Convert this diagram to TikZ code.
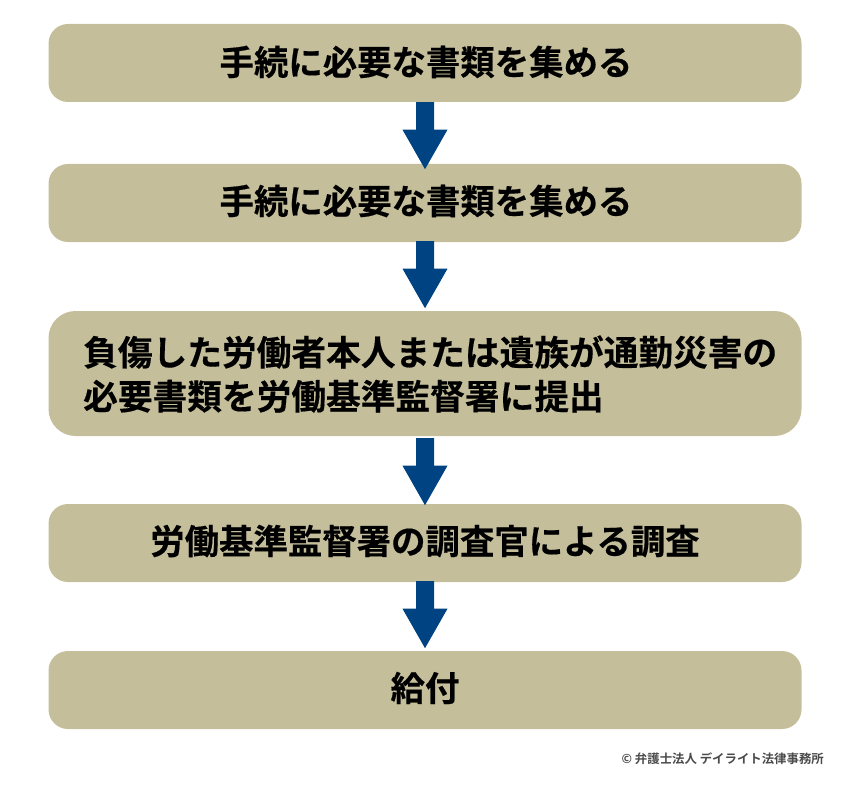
\documentclass[tikz,border=0pt]{standalone}
\usepackage{fontspec}
\newfontfamily\cjkb{Noto Sans CJK JP Bold}[FakeBold=0.4]
\newfontfamily\cjkm{Noto Sans CJK JP Bold}
\definecolor{boxc}{HTML}{C4BE9B}
\definecolor{arrowc}{HTML}{004382}
\definecolor{creditc}{HTML}{4A4A4A}
\tikzset{
 stepbox/.style={fill=boxc,rounded corners=19.5pt,minimum width=753pt,inner sep=0pt,text=black},
 lab/.style={text=black,inner sep=0pt,font=\cjkb\fontsize{34.4pt}{44pt}\selectfont},
 flow/.style={fill=arrowc,draw=none}
}
\begin{document}
\begin{tikzpicture}[x=1pt,y=-1pt]
\useasboundingbox (0,0) rectangle (850,786);
\node[stepbox,minimum height=78pt] (a) at (425,63) {};
\node[stepbox,minimum height=78pt] (b) at (425,203) {};
\node[stepbox,minimum height=125pt,rounded corners=27pt] (c) at (425,373.5) {};
\node[stepbox,minimum height=78pt] (d) at (425,543) {};
\node[stepbox,minimum height=78pt] (e) at (425,690) {};
\node[lab] (ta) at (426,62) {手続に必要な書類を集める};
\node[lab] (tb) at (426,201) {手続に必要な書類を集める};
\node[lab,font=\cjkb\fontsize{34.7pt}{44pt}\selectfont,align=left,anchor=west] (tc) at (83,374) {負傷した労働者本人または遺族が通勤災害の\\必要書類を労働基準監督署に提出};
\node[lab] (td) at (425,541) {労働基準監督署の調査官による調査};
\node[lab] (te) at (425,688) {給付};
\node[text=creditc,inner sep=0pt,anchor=east,font=\cjkm\fontsize{12.4pt}{15pt}\selectfont] (cr) at (824,759) {© 弁護士法人 デイライト法律事務所};
\foreach \s/\o in {a/0,b/-1,c/2,d/-1}{
 \fill[flow] ([xshift=-9pt,yshift=-\o pt]\s.south) -- ([xshift=-9pt,yshift=-\o pt-27.5pt]\s.south) -- ([xshift=-22.5pt,yshift=-\o pt-27.5pt]\s.south) -- ([yshift=-\o pt-67pt]\s.south) -- ([xshift=22.5pt,yshift=-\o pt-27.5pt]\s.south) -- ([xshift=9pt,yshift=-\o pt-27.5pt]\s.south) -- ([xshift=9pt,yshift=-\o pt]\s.south) -- cycle;
}
\end{tikzpicture}
\end{document}
